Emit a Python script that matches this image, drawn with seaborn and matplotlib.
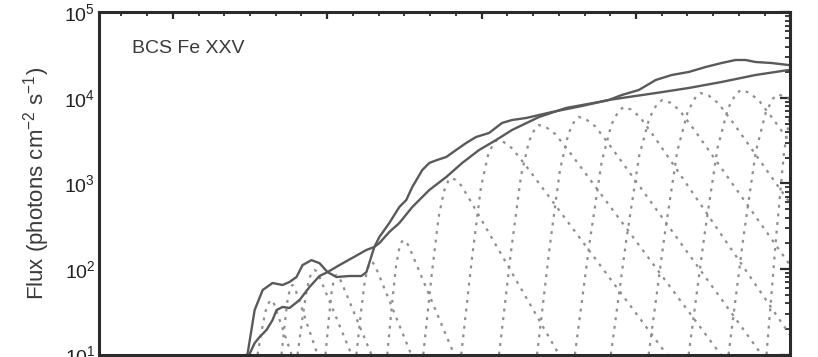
import numpy as np
import pandas as pd
import matplotlib
matplotlib.use("Agg")
import matplotlib.pyplot as plt
import seaborn as sns
from matplotlib.ticker import LogLocator, MultipleLocator, NullFormatter

# ---------------- data ----------------
# summed model flux (upper, wiggly solid curve)
t_sum = [1.472, 1.485, 1.530, 1.582, 1.646, 1.711, 1.756, 1.801, 1.840, 1.898,
         1.950, 2.002, 2.060, 2.144, 2.221, 2.254, 2.305, 2.338, 2.402, 2.467,
         2.512, 2.551, 2.616, 2.661, 2.712, 2.771, 2.835, 2.900, 2.964, 3.048,
         3.132, 3.197, 3.288, 3.456, 3.649, 3.824, 3.908, 4.018, 4.128, 4.231,
         4.341, 4.451, 4.554, 4.645, 4.709, 4.774, 4.877, 4.987]
flux_sum = [9.1, 10.4, 33.1, 56.8, 68.6, 65.0, 70.5, 80.6, 111, 127,
            117, 92, 80.6, 82.8, 82.8, 92, 181, 237, 345, 531,
            641, 910, 1440, 1738, 1884, 2042, 2466, 2978, 3499, 3898,
            5102, 5529, 5834, 6856, 8057, 9480, 10840, 12410, 16250, 18580,
            20140, 23050, 25660, 27830, 27830, 26360, 25660, 24320]

# smooth flux (lower solid curve)
t_smooth = [1.491, 1.530, 1.562, 1.607, 1.646, 1.672, 1.711, 1.756, 1.821, 1.885,
            1.950, 2.002, 2.079, 2.163, 2.254, 2.305, 2.338, 2.402, 2.467, 2.551,
            2.661, 2.771, 2.874, 2.984, 3.094, 3.197, 3.372, 3.546, 3.759, 3.824,
            3.908, 4.128, 4.341, 4.554, 4.774, 4.987]
flux_smooth = [9.6, 13.6, 16.0, 19.4, 25.3, 33.1, 36.0, 35.0, 43.4, 61.5,
               82.8, 92, 111, 135, 167, 181, 201, 271, 345, 531,
               839, 1191, 1738, 2466, 3228, 4224, 5998, 7640, 8980, 9480,
               10000, 11430, 13090, 15390, 18580, 21250]

# individual components (dotted humps): start, peak position, peak flux, end
comp_start = [1.549, 1.704, 1.808, 1.989, 2.189, 2.389, 2.622, 2.868,
              3.113, 3.359, 3.604, 3.837, 4.082, 4.341, 4.599, 4.845]
comp_peak_t = [1.640, 1.775, 1.918, 2.060, 2.286, 2.493, 2.803, 3.100,
               3.372, 3.630, 3.920, 4.170, 4.420, 4.680, 4.920, 5.052]
comp_peak_flux = [43.4, 65.0, 97.3, 85.1, 121, 218, 1159, 3228,
                  4831, 5998, 7850, 9480, 11430, 12410, 11000, 11000]
comp_end = [1.769, 1.937, 2.157, 2.286, 2.544, 2.822, 3.501, 4.199,
            4.548, 4.813, 5.084, 5.407, 5.692, 5.976, 6.234, 6.473]

# hump outline template (fraction of rise/fall span, fraction of log height)
RISE_FRAC = [0.0, 0.3, 0.55, 0.75, 0.9, 1.0]
RISE_LEVEL = [0.0, 0.45, 0.78, 0.93, 0.985, 1.0]
FALL_FRAC = [0.04, 0.09, 0.17, 1.0]
FALL_LEVEL = [0.99, 0.96, 0.88, 0.0]
FLOOR = 10.0

label_text = "BCS Fe XXV"
ylabel_text = "Flux (photons cm$^{-2}$ s$^{-1}$)"

# ---------------- build tables ----------------
rows = []
for i, (s, tp, fp, e) in enumerate(zip(comp_start, comp_peak_t, comp_peak_flux, comp_end)):
    h = np.log10(fp) - np.log10(FLOOR)
    for f, lev in zip(RISE_FRAC, RISE_LEVEL):
        rows.append((i, s + f * (tp - s), FLOOR * 10 ** (lev * h)))
    for f, lev in zip(FALL_FRAC, FALL_LEVEL):
        rows.append((i, tp + f * (e - tp), FLOOR * 10 ** (lev * h)))
comps = pd.DataFrame(rows, columns=["comp", "t", "flux"])
df_sum = pd.DataFrame({"t": t_sum, "flux": flux_sum})
df_smooth = pd.DataFrame({"t": t_smooth, "flux": flux_smooth})

# ---------------- style ----------------
sns.set_style("white")
plt.rcParams["font.family"] = ["Liberation Sans", "DejaVu Sans"]
plt.rcParams["mathtext.fontset"] = "custom"
plt.rcParams["mathtext.rm"] = "Liberation Sans"
plt.rcParams["mathtext.it"] = "Liberation Sans:italic"
plt.rcParams["mathtext.bf"] = "Liberation Sans:bold"

fig = plt.figure(figsize=(8.18, 3.57), dpi=100)
ax = fig.add_axes([0.1216, 0.007, 0.8447, 0.958])

spine_col = "#2b2b2b"
sns.lineplot(data=comps, x="t", y="flux", units="comp", estimator=None, sort=False,
             ax=ax, color="#8e8e8e", lw=1.6, linestyle=(0, (1.3, 2.6)), legend=False)
sns.lineplot(data=df_smooth, x="t", y="flux", estimator=None, sort=False,
             ax=ax, color="#5a5a5a", lw=1.7)
sns.lineplot(data=df_sum, x="t", y="flux", estimator=None, sort=False,
             ax=ax, color="#5a5a5a", lw=1.7)

ax.set_yscale("log")
ax.set_ylim(10, 1e5)
ax.set_xlim(0.525, 5.0)
ax.yaxis.set_major_locator(LogLocator(base=10, numticks=10))
ax.yaxis.set_minor_locator(LogLocator(base=10, subs=np.arange(2, 10), numticks=20))
ax.yaxis.set_minor_formatter(NullFormatter())
ax.xaxis.set_major_locator(MultipleLocator(1))
ax.xaxis.set_minor_locator(MultipleLocator(1 / 6))

ax.set_xlabel("")
ax.set_ylabel("")
for sp in ax.spines.values():
    sp.set_linewidth(2.2)
    sp.set_color(spine_col)
    sp.set_visible(True)

ax.tick_params(axis="both", which="both", direction="in", top=True, right=True,
               color=spine_col, labelbottom=False)
ax.tick_params(axis="y", which="major", length=7.5, width=1.6, labelsize=14, pad=3,
               labelcolor="#222222")
ax.tick_params(axis="y", which="minor", length=3.8, width=1.3)
ax.tick_params(axis="x", which="major", length=5, width=1.6)
ax.tick_params(axis="x", which="minor", length=3, width=1.3)

ax.text(0.047, 0.896, label_text, transform=ax.transAxes, fontsize=14,
        color="#3a3a3a", ha="left", va="center")
fig.text(0.0452, 0.485, ylabel_text, rotation=90, fontsize=16, color="#3a3a3a",
         ha="center", va="center")

fig.savefig("out.png", dpi=100)
